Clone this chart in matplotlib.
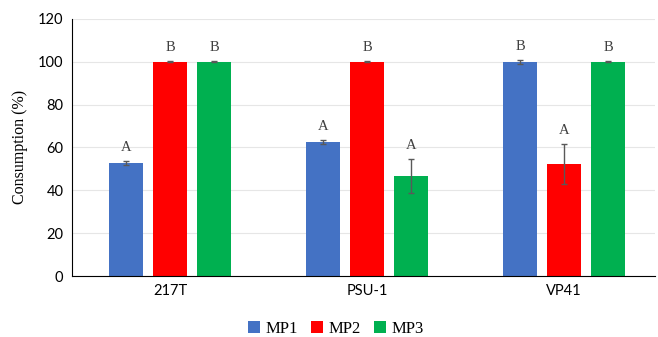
import matplotlib.pyplot as plt
import numpy as np

strains = ["217T", "PSU-1", "VP41"]
series = ["MP1", "MP2", "MP3"]
mp1 = [52.7, 62.5, 100.0]
mp2 = [100.0, 100.0, 52.2]
mp3 = [100.0, 46.7, 100.0]
mp1_err = [1.0, 1.0, 1.0]
mp2_err = [0.3, 0.3, 9.4]
mp3_err = [0.3, 8.0, 0.3]
letters = [["A", "A", "B"], ["B", "B", "A"], ["B", "A", "B"]]

colors = ["#4472C4", "#FF0000", "#00B050"]

fig = plt.figure(figsize=(6.58, 3.37), dpi=100)
ax = fig.add_axes([0.109, 0.181, 0.886, 0.763])

x = np.arange(len(strains))
width = 0.173
step = 0.223
vals = [mp1, mp2, mp3]
errs = [mp1_err, mp2_err, mp3_err]

for i in range(3):
    pos = x + (i - 1) * step
    ax.bar(pos, vals[i], width, color=colors[i], label=series[i], zorder=2)
    ax.errorbar(pos, vals[i], yerr=errs[i], fmt="none", ecolor="#595959",
                elinewidth=1, capsize=2.5, capthick=1, zorder=3)
    for j in range(3):
        ax.annotate(letters[i][j], (pos[j], vals[i][j] + errs[i][j]),
                    xytext=(0, 5), textcoords="offset points", ha="center",
                    va="bottom", fontsize=10.5, family="Liberation Serif",
                    color="#404040")

ax.set_xlim(-0.5, 2.46)
ax.set_ylim(0, 120)
ax.set_yticks(range(0, 121, 20))
ax.set_xticks(x)
ax.set_xticklabels(strains)
ax.tick_params(length=0, labelsize=10.5, pad=6)
for lab in ax.get_xticklabels() + ax.get_yticklabels():
    lab.set_family("Lato")
ax.yaxis.grid(True, color="#e6e6e6", linewidth=0.8, zorder=0)
ax.set_axisbelow(True)
for s in ["top", "right"]:
    ax.spines[s].set_visible(False)
ax.spines["left"].set_color("black")
ax.spines["bottom"].set_color("black")
ax.set_ylabel("Consumption (%)", family="Liberation Serif", fontsize=11.5, labelpad=7)

fig.legend(loc="lower center", bbox_to_anchor=(0.51, -0.045), ncol=3, frameon=False,
           prop={"family": "Liberation Serif", "size": 12},
           handlelength=0.75, handleheight=0.75, handletextpad=0.3, columnspacing=0.8)

fig.savefig("out.png", dpi=100)
